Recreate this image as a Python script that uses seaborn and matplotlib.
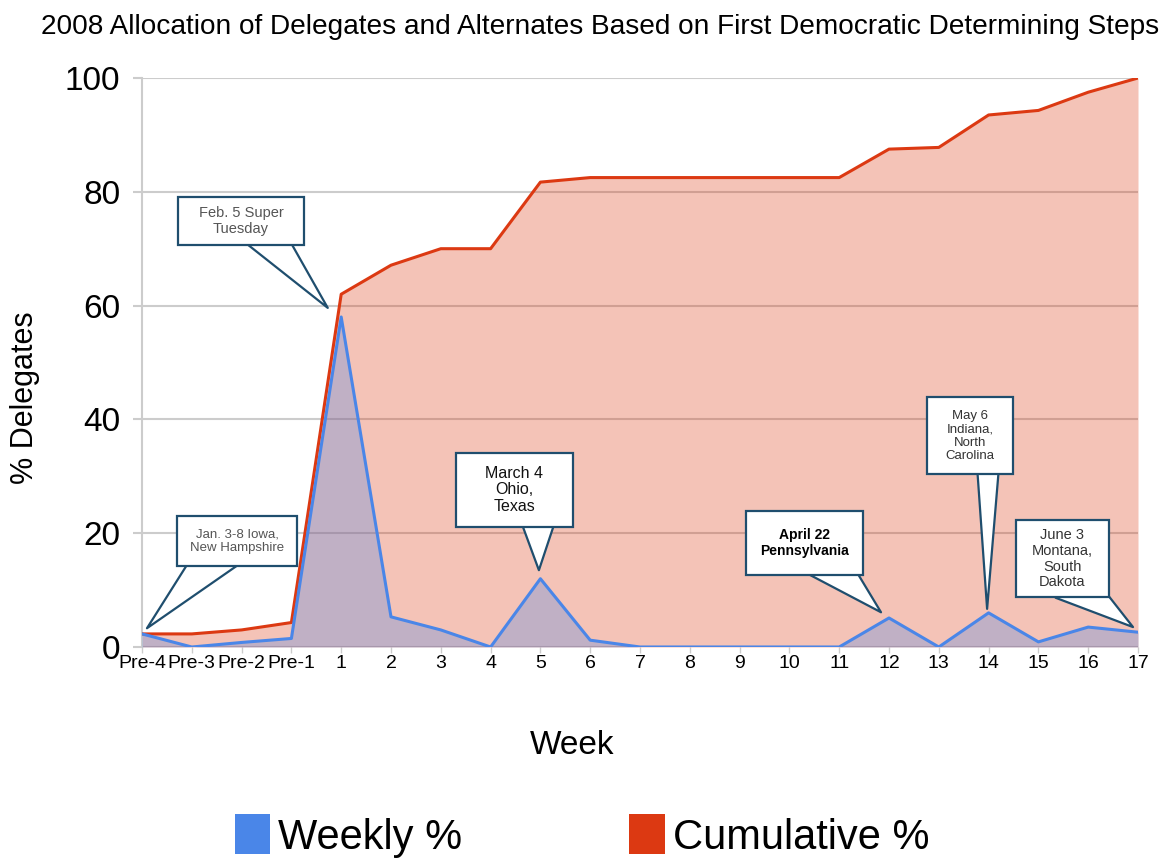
import matplotlib
matplotlib.use("Agg")
import matplotlib.pyplot as plt
import seaborn as sns
import pandas as pd
from matplotlib.patches import Patch

weeks = ["Pre-4", "Pre-3", "Pre-2", "Pre-1", "1", "2", "3", "4", "5", "6", "7", "8",
         "9", "10", "11", "12", "13", "14", "15", "16", "17"]
weekly = [2.3, 0.0, 0.8, 1.5, 58.0, 5.3, 3.0, 0.0, 12.0, 1.2, 0.0, 0.0,
          0.0, 0.0, 0.0, 5.1, 0.0, 6.0, 0.9, 3.5, 2.6]
cumulative = [2.3, 2.3, 3.0, 4.3, 62.0, 67.1, 70.0, 70.0, 81.7, 82.5, 82.5, 82.5,
              82.5, 82.5, 82.5, 87.5, 87.8, 93.5, 94.3, 97.5, 100.0]

# callouts: text, pointer tip (week idx, value), pointer base, box centre
callout_text = ["Jan. 3-8 Iowa,\nNew Hampshire", "Feb. 5 Super\nTuesday",
                "March 4\nOhio,\nTexas", "April 22\nPennsylvania",
                "May 6\nIndiana,\nNorth\nCarolina", "June 3\nMontana,\nSouth\nDakota"]
callout_pt_x = [0.1, 3.73, 7.97, 14.84, 16.97, 19.9]
callout_pt_y = [3.3, 59.6, 13.5, 6.1, 6.7, 3.5]
callout_base_x = [1.62, 2.34, 7.95, 13.64, 16.99, 18.61]
callout_base_y = [17.2, 73.8, 24.3, 16.0, 33.6, 11.8]
callout_box_x = [1.91, 1.99, 7.47, 13.31, 16.63, 18.48]
callout_box_y = [18.6, 74.9, 27.6, 18.3, 37.1, 15.5]
callout_color = ["#555555", "#555555", "#111111", "#000000", "#333333", "#333333"]
callout_weight = ["normal", "normal", "normal", "bold", "normal", "normal"]
callout_size = [9.5, 10.5, 11.5, 10, 9.5, 10.5]
callout_tail = [3.2, 3.0, 3.1, 3.3, 1.7, 3.2]
callout_hpad = [13, 21, 29.5, 14, 18.5, 16]   # px
callout_vpad = [12, 9, 12.5, 17.5, 12.5, 8]   # px

BLUE = "#4a86e8"
RED = "#dc3912"
EDGE = "#1f4e6e"

sns.set_theme(style="white")
plt.rcParams["font.family"] = ["Liberation Sans", "DejaVu Sans"]
plt.rcParams["text.color"] = "black"
plt.rcParams["xtick.color"] = "black"
plt.rcParams["ytick.color"] = "black"

df = pd.DataFrame({"idx": range(len(weeks)), "week": weeks,
                   "weekly": weekly, "cumulative": cumulative})

fig = plt.figure(figsize=(11.69, 8.61), dpi=100)
ax = fig.add_axes([142 / 1169, 1 - 647 / 861, (1138 - 142) / 1169, (647 - 78) / 861])

ax.fill_between(df["idx"], df["cumulative"], 0, color=RED, alpha=0.3, lw=0, zorder=2)
ax.fill_between(df["idx"], df["weekly"], 0, color=BLUE, alpha=0.3, lw=0, zorder=3)
sns.lineplot(data=df, x="idx", y="cumulative", color=RED, lw=2.2, ax=ax, zorder=4)
sns.lineplot(data=df, x="idx", y="weekly", color=BLUE, lw=2.2, ax=ax, zorder=5)

ax.set_xlim(0, len(weeks) - 1)
ax.set_ylim(0, 100)
ax.set_xticks(range(len(weeks)))
ax.set_xticklabels(weeks, fontsize=14)
ax.set_yticks([0, 20, 40, 60, 80, 100])
ax.set_yticklabels(["0", "20", "40", "60", "80", "100"], fontsize=24)
ax.set_xlabel("")
ax.set_ylabel("")
ax.grid(axis="y", color="#cccccc", lw=1.5, zorder=1)
ax.set_axisbelow(True)
for s in ["top", "right", "bottom"]:
    ax.spines[s].set_visible(False)
ax.spines["left"].set_color("#cccccc")
ax.spines["left"].set_linewidth(1.5)
ax.tick_params(axis="y", length=6.5, width=1.5, color="#cccccc", labelcolor="black",
               pad=9, left=True)
ax.tick_params(axis="x", length=4, width=1, color="#cccccc", labelcolor="black",
               pad=2, bottom=True)

for t, px, py, qx, qy, bx, by, c, w, fs, tw, hp, vp in zip(
        callout_text, callout_pt_x, callout_pt_y, callout_base_x, callout_base_y,
        callout_box_x, callout_box_y, callout_color, callout_weight, callout_size,
        callout_tail, callout_hpad, callout_vpad):
    ax.annotate("", xy=(px, py), xytext=(qx, qy),
                arrowprops=dict(arrowstyle=f"wedge,tail_width={tw},shrink_factor=0.5",
                                fc="white", ec=EDGE, lw=1.6,
                                patchA=None, shrinkA=0, shrinkB=0,
                                mutation_scale=10),
                zorder=9)
    fs_px = fs * 100 / 72
    ax.text(bx, by, t, ha="center", va="center",
            fontsize=fs, color=c, fontweight=w, linespacing=1.15,
            bbox=dict(boxstyle=f"square,pad={hp / fs_px:.3f}", fc="white", ec=EDGE,
                      lw=1.6, mutation_aspect=vp / hp),
            zorder=10)

fig.text(600 / 1169, 1 - 27 / 861,
         "2008 Allocation of Delegates and Alternates Based on First Democratic Determining Steps",
         ha="center", va="center", fontsize=20.2, color="black")
fig.text(572 / 1169, 1 - 745 / 861, "Week", ha="center", va="center", fontsize=24,
         color="black")
fig.text(25 / 1169, 1 - 398 / 861, "% Delegates", ha="center", va="center",
         rotation=90, fontsize=22, color="black")

handles = [Patch(facecolor=BLUE, edgecolor="none"), Patch(facecolor=RED, edgecolor="none")]
leg = fig.legend(handles, ["Weekly %", "Cumulative %"], loc="center",
                 bbox_to_anchor=(582 / 1169, 1 - 836 / 861), ncol=2, frameon=False,
                 fontsize=30, handlelength=0.85, handleheight=1.1, handletextpad=0.2,
                 columnspacing=4.0)
for txt in leg.get_texts():
    txt.set_color("black")

fig.savefig("out.png", dpi=100)
